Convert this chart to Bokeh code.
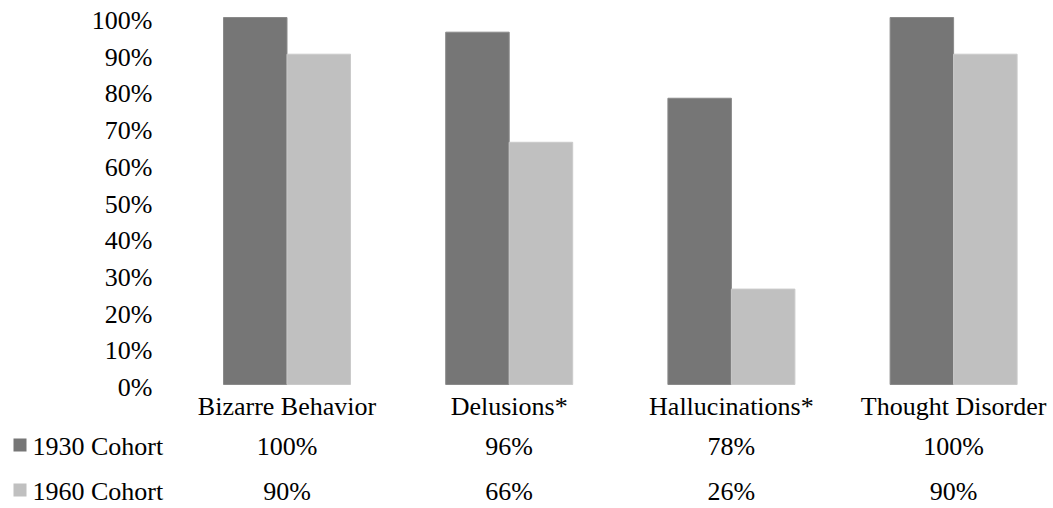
from bokeh.plotting import figure
from bokeh.models import Range1d, ColumnDataSource
from bokeh.core.properties import value
from bokeh.embed import file_html
from bokeh.resources import INLINE

categories = ["Bizarre Behavior", "Delusions*", "Hallucinations*", "Thought Disorder"]
series_names = ["1930 Cohort", "1960 Cohort"]
cohort_1930 = [100, 96, 78, 100]
cohort_1960 = [90, 66, 26, 90]
y_ticks = [0, 10, 20, 30, 40, 50, 60, 70, 80, 90, 100]
y_tick_labels = [f"{t}%" for t in y_ticks]

colors = ["#767676", "#C0C0C0"]
edge_colors = ["#8a8a8a", "#cacaca"]
FONT = "'Liberation Serif', 'Times New Roman', Tinos, serif"
FS = "26px"

W, H = 1053, 508
# pixel layout of the plotting area
PX_CAT = 222.2          # px per category
X0_PX = 286.5           # px position of first category centre
Y0_PX = 384.0           # px position of 0 %
PX_PCT = 3.67           # px per percent

def xd(px):
    return (px - X0_PX) / PX_CAT

def yd(px):
    return (Y0_PX - px) / PX_PCT

xs = list(range(len(categories)))
BAR_W = 63.5 / PX_CAT
series = [cohort_1930, cohort_1960]
offsets = [-BAR_W / 2, BAR_W / 2]

p = figure(width=W, height=H, output_backend="svg", toolbar_location=None,
           x_range=Range1d(xd(0), xd(W)), y_range=Range1d(yd(H), yd(0)),
           min_border=0, min_border_left=0, min_border_right=0,
           min_border_top=0, min_border_bottom=0)
p.outline_line_color = None
p.grid.visible = False
p.axis.visible = False
p.background_fill_color = "white"
p.border_fill_color = "white"

for vals, off, c, ec in zip(series, offsets, colors, edge_colors):
    src = ColumnDataSource(dict(x=[x + off for x in xs], top=vals))
    p.vbar(x="x", top="top", bottom=0, width=BAR_W, source=src,
           fill_color=c, line_color=ec, line_width=1)

txt = dict(text_font=value(FONT), text_font_size=FS, text_color="#000000",
           text_baseline="middle")

# y tick labels (value axis)
p.text(x=[xd(152)] * len(y_ticks), y=y_ticks, text=y_tick_labels,
       text_align="right", y_offset=3, **txt)

# category labels
p.text(x=xs, y=[0] * len(xs), text=categories, text_align="center",
       y_offset=22, **txt)

# data table rows
row_px = [446, 491]
for r, (name, vals, c) in enumerate(zip(series_names, series, colors)):
    yr = yd(row_px[r])
    p.rect(x=[xd(19.5)], y=[yd(row_px[r] - 1.5)], width=13, height=13,
           width_units="screen", height_units="screen",
           fill_color=c, line_color=None)
    p.text(x=[xd(32)], y=[yr], text=[name], text_align="left", **txt)
    p.text(x=xs, y=[yr] * len(xs), text=[f"{v}%" for v in vals],
           text_align="center", **txt)

open("out.html", "w").write(file_html(p, INLINE))
